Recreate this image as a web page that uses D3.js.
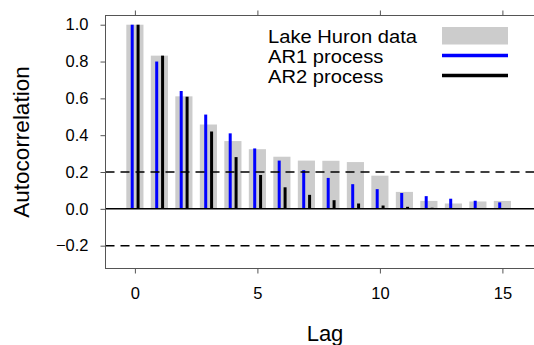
<!DOCTYPE html>
<html><head><meta charset="utf-8">
<script src="https://cdn.jsdelivr.net/npm/d3@7"></script>
<style>body{margin:0;background:#fff}svg{display:block}text{font-family:"Liberation Sans",Arial,Helvetica,sans-serif}</style>
</head><body><svg id="c" width="534" height="345"></svg>
<script>
const lags = [0,1,2,3,4,5,6,7,8,9,10,11,12,13,14,15];
const lakeHuron = [1.0,0.832,0.611,0.458,0.368,0.324,0.283,0.262,0.261,0.254,0.180,0.092,0.043,0.029,0.040,0.043];
const ar1 = [1.0,0.800,0.640,0.512,0.410,0.328,0.262,0.210,0.168,0.134,0.107,0.086,0.069,0.055,0.044,0.035];
const ar2 = [1.0,0.832,0.609,0.420,0.281,0.184,0.117,0.076,0.047,0.029,0.018,0.011,0.006,0.004,0.002,0.001];
const xTicks = [0,5,10,15];
const yTicks = [-0.2,0.0,0.2,0.4,0.6,0.8,1.0];
const legendLabels = ["Lake Huron data","AR1 process","AR2 process"];
const confBand = [0.2,-0.2];

const svg = d3.select("#c");
const L=105.5, R=544.5, T=15.5, B=268.5;
const x = d3.scaleLinear().domain([-1.2,-1.2+(R-L)/24.5]).range([L,R]);
const y = d3.scaleLinear().domain([-0.324,1.05]).range([B,T]);
const unit = x(1)-x(0);

// bars
svg.append("g").selectAll("rect").data(lags).join("rect")
  .attr("x",d=>x(d-0.35)).attr("width",unit*0.7)
  .attr("y",(d,i)=>y(lakeHuron[i])).attr("height",(d,i)=>y(0)-y(lakeHuron[i]))
  .attr("fill","#cccccc");
svg.append("g").selectAll("line").data(lags).join("line")
  .attr("x1",d=>x(d-0.11)).attr("x2",d=>x(d-0.11))
  .attr("y1",y(0)).attr("y2",(d,i)=>y(ar1[i]))
  .attr("stroke","#0000ff").attr("stroke-width",3);
svg.append("g").selectAll("line").data(lags).join("line")
  .attr("x1",d=>x(d+0.13)).attr("x2",d=>x(d+0.13))
  .attr("y1",y(0)).attr("y2",(d,i)=>y(ar2[i]))
  .attr("stroke","#000").attr("stroke-width",3);

// zero & dashed lines
svg.append("line").attr("x1",L).attr("x2",R).attr("y1",y(0)).attr("y2",y(0)).attr("stroke","#000").attr("stroke-width",1.5);
svg.append("g").selectAll("line").data(confBand).join("line")
  .attr("x1",L).attr("x2",R).attr("y1",d=>y(d)).attr("y2",d=>y(d))
  .attr("stroke","#000").attr("stroke-width",1.5).attr("stroke-dasharray","9,6");

// box
svg.append("rect").attr("x",L).attr("y",T).attr("width",R-L).attr("height",B-T)
  .attr("fill","none").attr("stroke","#555").attr("stroke-width",1);

// axes
const fmt = d3.format(".1f");
const ay = svg.append("g").attr("transform",`translate(${L},0)`)
  .call(d3.axisLeft(y).tickValues(yTicks).tickFormat(fmt).tickSize(5).tickPadding(12));
const ax = svg.append("g").attr("transform",`translate(0,${B})`)
  .call(d3.axisBottom(x).tickValues(xTicks).tickSize(5).tickPadding(14));
const at = svg.append("g").attr("transform",`translate(0,${T})`)
  .call(d3.axisTop(x).tickValues(xTicks).tickSize(5).tickFormat(""));
[ay,ax,at].forEach(g=>{
  g.select(".domain").remove();
  g.selectAll(".tick line").attr("stroke","#555");
  g.selectAll("text").attr("font-size",16.5).attr("fill","#000").style("font-family",'"Liberation Sans",Arial,sans-serif');
});
ay.selectAll("text").text(d=>d<0?"\u22120.2":fmt(d));

// titles
svg.append("text").attr("x",(L+R)/2).attr("y",341).attr("text-anchor","middle").attr("font-size",22).text("Lag");
svg.append("text").attr("transform",`translate(29,${(T+B)/2}) rotate(-90)`).attr("text-anchor","middle").attr("font-size",22.5).text("Autocorrelation");

// legend
const lg = svg.append("g");
const ly = [36,56,76];
const lt = lg.selectAll("text").data(legendLabels).join("text")
  .attr("x",268).attr("y",(d,i)=>ly[i]+6.5).attr("font-size",17.5).text(d=>d);
const base = lt.nodes()[0].getComputedTextLength();
const k = 149/base;
lt.each(function(){ const w=this.getComputedTextLength(); d3.select(this).attr("textLength",w*k).attr("lengthAdjust","spacingAndGlyphs"); });
lg.append("rect").attr("x",442).attr("y",27).attr("width",66).attr("height",17.5).attr("fill","#cccccc");
lg.append("line").attr("x1",442).attr("x2",508).attr("y1",ly[1]-0.5).attr("y2",ly[1]-0.5).attr("stroke","#0000ff").attr("stroke-width",3.5);
lg.append("line").attr("x1",442).attr("x2",508).attr("y1",ly[2]-0.5).attr("y2",ly[2]-0.5).attr("stroke","#000").attr("stroke-width",3.5);
</script></body></html>
